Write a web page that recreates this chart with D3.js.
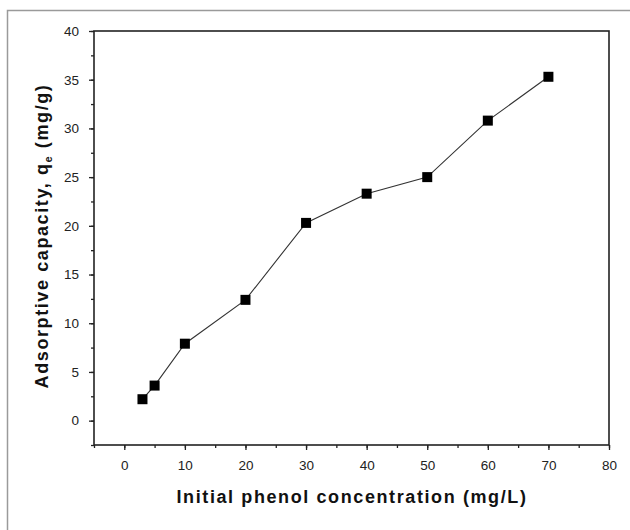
<!DOCTYPE html>
<html>
<head>
<meta charset="utf-8">
<script src="https://cdnjs.cloudflare.com/ajax/libs/d3/7.8.5/d3.min.js"></script>
<style>
  body { margin:0; background:#fff; }
  svg { display:block; font-family:"Liberation Sans", Arial, sans-serif; }
  .tick text { font-size:13.5px; fill:#222; }
</style>
</head>
<body>
<div id="canvas"></div>
<script>
// data
var concentration = [3, 5, 10, 20, 30, 40, 50, 60, 70];
var capacity = [2.2, 3.6, 7.9, 12.4, 20.3, 23.3, 25.0, 30.8, 35.3];
var xTicks = [0, 10, 20, 30, 40, 50, 60, 70, 80];
var yTicks = [0, 5, 10, 15, 20, 25, 30, 35, 40];

var W = 630, H = 530;
var m = {t:31, r:21, b:85, l:94};
var w = W - m.l - m.r,
    h = H - m.t - m.b;

var svg = d3.select('#canvas').append('svg')
    .attr('width', W)
    .attr('height', H);

// outer frame (only top/left visible)
svg.append('rect')
    .attr('x', 7.5).attr('y', 10.5)
    .attr('width', 660).attr('height', 560)
    .attr('fill', 'none')
    .attr('stroke', '#9a9a9a')
    .attr('stroke-width', 1.5);

var plot = svg.append('g')
    .attr('transform', 'translate(' + m.l + ',' + m.t + ')');

var scaleX = d3.scaleLinear().domain([-5, 80]).range([0, w]);
var scaleY = d3.scaleLinear().domain([-2.5, 40]).range([h, 0]);

// minor ticks
var axisXMinor = d3.axisBottom(scaleX).tickValues(d3.range(-5, 81, 5)).tickSize(3).tickFormat('');
var axisYMinor = d3.axisLeft(scaleY).tickValues(d3.range(-2.5, 40.1, 2.5)).tickSize(3).tickFormat('');
plot.append('g').attr('transform', 'translate(0,' + h + ')').call(axisXMinor);
plot.append('g').call(axisYMinor);

// major ticks
var axisX = d3.axisBottom(scaleX).tickValues(xTicks).tickSize(5).tickPadding(10);
var axisY = d3.axisLeft(scaleY).tickValues(yTicks).tickSize(5).tickPadding(10);
plot.append('g').attr('class', 'axis').attr('transform', 'translate(0,' + h + ')').call(axisX);
plot.append('g').attr('class', 'axis').call(axisY);

plot.selectAll('.domain').remove();
plot.selectAll('.tick line').attr('stroke', '#222').attr('stroke-width', 1.3);

// frame of the plot area
plot.append('rect')
    .attr('width', w).attr('height', h)
    .attr('fill', 'none')
    .attr('stroke', '#222')
    .attr('stroke-width', 1.6);

var rows = concentration.map(function (c, i) { return {x: c, y: capacity[i]}; });

var line = d3.line()
    .x(function (d) { return scaleX(d.x); })
    .y(function (d) { return scaleY(d.y); });

plot.append('path')
    .datum(rows)
    .attr('d', line)
    .attr('fill', 'none')
    .attr('stroke', '#333')
    .attr('stroke-width', 1.1);

var s = 10;
plot.selectAll('rect.pt')
    .data(rows)
    .enter().append('rect')
    .attr('class', 'pt')
    .attr('x', function (d) { return scaleX(d.x) - s / 2; })
    .attr('y', function (d) { return scaleY(d.y) - s / 2; })
    .attr('width', s).attr('height', s)
    .attr('fill', '#000');

// axis titles
svg.append('text')
    .attr('x', 352)
    .attr('y', 503)
    .attr('text-anchor', 'middle')
    .attr('font-size', 18)
    .attr('font-weight', 'bold')
    .attr('letter-spacing', 1.6)
    .attr('fill', '#111')
    .text('Initial phenol concentration (mg/L)');

var yt = svg.append('text')
    .attr('transform', 'translate(48,236) rotate(-90)')
    .attr('text-anchor', 'middle')
    .attr('font-size', 18)
    .attr('font-weight', 'bold')
    .attr('letter-spacing', 1.6)
    .attr('fill', '#111');
yt.append('tspan').text('Adsorptive capacity, q');
yt.append('tspan').attr('font-size', 11).attr('dy', 4).text('e');
yt.append('tspan').attr('dy', -4).text(' (mg/g)');
</script>
</body>
</html>
